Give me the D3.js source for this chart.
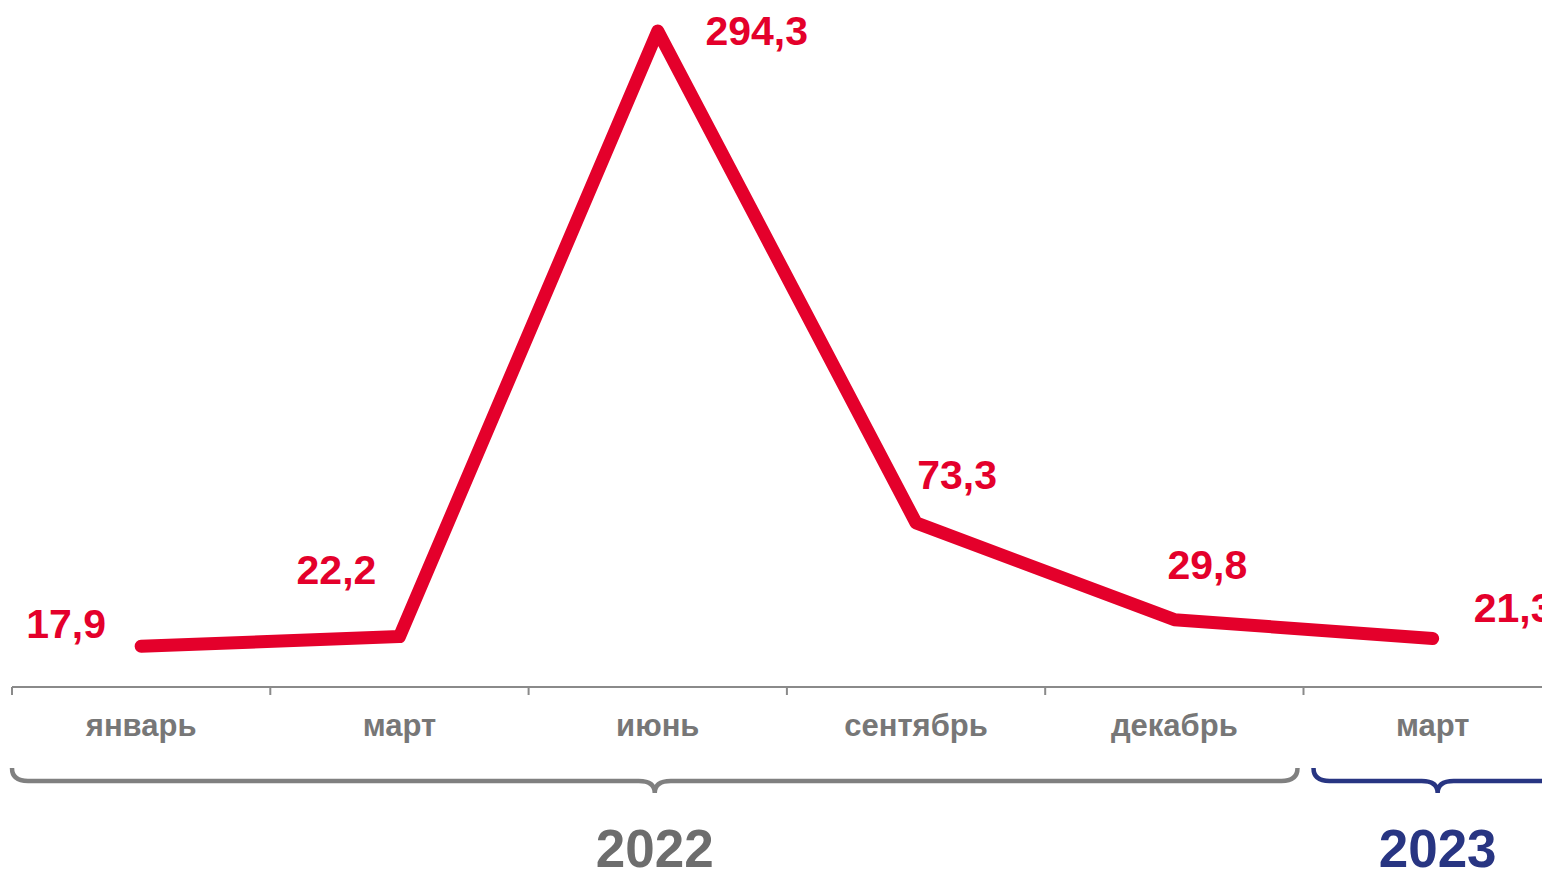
<!DOCTYPE html>
<html>
<head>
<meta charset="utf-8">
<script src="https://cdn.jsdelivr.net/npm/d3@7"></script>
<style>
  html, body { margin: 0; padding: 0; background: #fff; overflow: hidden; }
  svg { display: block; font-family: "Liberation Sans", Arial, sans-serif; }
</style>
</head>
<body>
<div id="chart"></div>
<script>
// данные
var months = ["январь", "март", "июнь", "сентябрь", "декабрь", "март"];
var values = [17.9, 22.2, 294.3, 73.3, 29.8, 21.3];
var valueLabels = ["17,9", "22,2", "294,3", "73,3", "29,8", "21,3"];
var years = ["2022", "2023"];
var yearSpan = [[0, 4], [5, 5]]; // индексы месяцев для каждого года
var yearColors = ["#808080", "#283582"];
// смещение подписей значений относительно точки
var labelOffsets = [[-75, -8], [-63, -53], [99, 14], [41, -34], [33, -41], [81, -17]];

var w = 1542, h = 872;
var red = "#e4002b";

var svg = d3.select("#chart").append("svg")
    .attr("width", w)
    .attr("height", h);

var x = d3.scaleBand()
    .domain(d3.range(months.length))
    .range([12, 12 + 258.3 * months.length]);

var y = d3.scaleLinear()
    .domain([0, 294.3])
    .range([686, 31]);

// ось
var axisY = 687;
svg.append("line")
    .attr("x1", x.range()[0]).attr("x2", x.range()[1])
    .attr("y1", axisY).attr("y2", axisY)
    .attr("stroke", "#8a8a8a").attr("stroke-width", 2);
svg.selectAll(".tick-mark")
    .data(d3.range(months.length + 1))
    .enter().append("line")
    .attr("class", "tick-mark")
    .attr("x1", d => x(0) + d * x.step())
    .attr("x2", d => x(0) + d * x.step())
    .attr("y1", axisY).attr("y2", axisY + 8)
    .attr("stroke", "#8a8a8a").attr("stroke-width", 2);

// подписи месяцев
svg.selectAll(".month")
    .data(months)
    .enter().append("text")
    .attr("class", "month")
    .attr("x", (d, i) => x(i) + x.bandwidth() / 2)
    .attr("y", 736)
    .attr("text-anchor", "middle")
    .attr("font-size", 31)
    .attr("font-weight", "bold")
    .attr("fill", "#777")
    .text(d => d);

// фигурные скобки годов
function brace(x1, x2, yTop, depth, tip) {
    var mid = (x1 + x2) / 2;
    var r = 16;
    return "M" + x1 + "," + yTop +
        "Q" + x1 + "," + (yTop + depth) + " " + (x1 + r) + "," + (yTop + depth) +
        "L" + (mid - r) + "," + (yTop + depth) +
        "Q" + mid + "," + (yTop + depth) + " " + mid + "," + (yTop + depth + tip) +
        "Q" + mid + "," + (yTop + depth) + " " + (mid + r) + "," + (yTop + depth) +
        "L" + (x2 - r) + "," + (yTop + depth) +
        "Q" + x2 + "," + (yTop + depth) + " " + x2 + "," + yTop;
}

yearSpan.forEach(function(s, i) {
    var x1 = x(s[0]) + (i === 0 ? 0 : 10);
    var x2 = x(s[1]) + x.bandwidth() - (i === 0 ? 6 : 0);
    svg.append("path")
        .attr("d", brace(x1, x2, 768, 13, 12))
        .attr("fill", "none")
        .attr("stroke", yearColors[i])
        .attr("stroke-width", 4.5);
    svg.append("text")
        .attr("x", (x1 + x2) / 2)
        .attr("y", 867)
        .attr("text-anchor", "middle")
        .attr("font-size", 53)
        .attr("font-weight", "bold")
        .attr("fill", i === 0 ? "#6d6d6d" : yearColors[i])
        .text(years[i]);
});

// линия
var line = d3.line()
    .x((d, i) => x(i) + x.bandwidth() / 2)
    .y(d => y(d));

svg.append("path")
    .datum(values)
    .attr("d", line)
    .attr("fill", "none")
    .attr("stroke", red)
    .attr("stroke-width", 13)
    .attr("stroke-linecap", "round")
    .attr("stroke-linejoin", "round");

// подписи значений
svg.selectAll(".val")
    .data(values)
    .enter().append("text")
    .attr("class", "val")
    .attr("x", (d, i) => x(i) + x.bandwidth() / 2 + labelOffsets[i][0])
    .attr("y", (d, i) => y(d) + labelOffsets[i][1])
    .attr("text-anchor", "middle")
    .attr("font-size", 41)
    .attr("font-weight", "bold")
    .attr("fill", red)
    .text((d, i) => valueLabels[i]);
</script>
</body>
</html>
